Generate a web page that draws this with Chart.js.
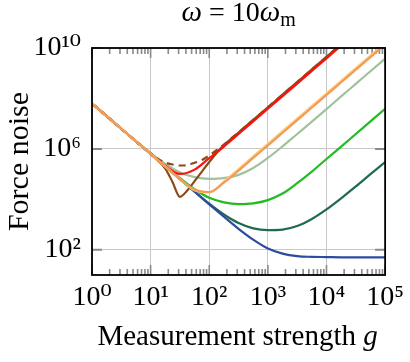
<!DOCTYPE html>
<html><head><meta charset="utf-8">
<script src="https://cdn.jsdelivr.net/npm/chart.js@4.4.0/dist/chart.umd.min.js"></script>
<style>html,body{margin:0;padding:0;background:#fff}canvas{display:block}</style>
</head><body>
<canvas id="c" width="410" height="362"></canvas>
<script>
const gCoarse = [1, 1.778, 3.162, 5.623, 10, 17.78, 31.62, 56.23, 100, 177.8, 316.2, 562.3, 1000, 1778, 3162, 5623, 10000, 17780, 31620, 56230, 100000];
const gFine = [1, 1.778, 3.162, 5.623, 10, 13.34, 17.78, 23.71, 31.62, 42.17, 56.23, 74.99, 100, 133.4, 177.8, 316.2, 562.3, 1000, 1778, 3162, 5623, 10000, 17780];

const blueNoise = [6.31e7, 2.0e7, 6.31e6, 2.0e6, 6.31e5, 2.0e5, 6.31e4, 2.0e4, 6.31e3, 2.04e3, 676, 251, 112, 70.8, 56.2, 52.5, 51.3, 50.1, 50.1, 50.1, 50.1];
const darkGreenNoise = [6.31e7, 2.0e7, 6.31e6, 2.0e6, 6.31e5, 2.0e5, 6.31e4, 2.04e4, 6.76e3, 2.51e3, 1.15e3, 708, 603, 631, 871, 1.66e3, 3.98e3, 1.10e4, 3.24e4, 1.0e5, 3.02e5];
const greenNoise = [6.31e7, 2.0e7, 6.31e6, 2.0e6, 6.31e5, 2.04e5, 6.92e4, 2.51e4, 1.15e4, 7.59e3, 6.46e3, 6.92e3, 9.33e3, 1.70e4, 4.37e4, 1.26e5, 3.98e5, 1.23e6, 3.89e6, 1.23e7, 3.89e7];
const sageNoise = [6.31e7, 2.0e7, 6.31e6, 2.0e6, 6.92e5, 2.51e5, 1.17e5, 7.59e4, 6.46e4, 6.92e4, 9.33e4, 1.74e5, 4.37e5, 1.26e6, 3.89e6, 1.20e7, 3.80e7, 1.20e8, 3.80e8, 1.20e9, 3.80e9];
const orangeNoise = [6.31e7, 2.0e7, 6.31e6, 2.0e6, 6.31e5, 2.0e5, 6.46e4, 2.45e4, 1.95e4, 4.57e4, 1.38e5, 4.37e5, 1.38e6, 4.37e6, 1.38e7, 4.37e7, 1.38e8, 4.37e8, 1.38e9, 4.37e9, 1.38e10];
const lightOrangeNoise = [6.31e7, 2.0e7, 6.31e6, 2.0e6, 6.31e5, 2.0e5, 6.31e4, 2.29e4, 1.86e4, 5.01e4, 1.58e5, 5.01e5, 1.58e6, 5.01e6, 1.58e7, 5.01e7, 1.58e8, 5.01e8, 1.58e9, 5.01e9, 1.58e10];
const redNoise = [6.31e7, 2.0e7, 6.31e6, 2.0e6, 6.31e5, 2.14e5, 1.02e5, 1.51e5, 4.27e5, 1.23e6, 3.89e6, 1.23e7, 3.89e7, 1.23e8, 3.89e8, 1.23e9, 3.89e9, 1.23e10, 3.89e10];
const brownNoise = [6.31e7, 2.0e7, 6.31e6, 2.0e6, 6.31e5, 3.39e5, 1.66e5, 4.79e4, 1.26e4, 2.24e4, 5.25e4, 1.26e5, 3.02e5, 6.92e5, 1.41e6, 4.47e6, 1.41e7, 4.47e7, 1.41e8, 4.47e8, 1.41e9, 4.47e9, 1.41e10];
const brownDashedNoise = [6.31e7, 2.0e7, 6.31e6, 2.0e6, 6.61e5, 3.98e5, 2.88e5, 2.40e5, 2.19e5, 2.29e5, 2.82e5, 3.63e5, 5.50e5, 8.91e5, 1.48e6, 4.57e6, 1.41e7, 4.47e7, 1.41e8, 4.47e8, 1.41e9, 4.47e9, 1.41e10];

const xTicks = [1, 10, 100, 1000, 10000, 100000];
const xTickLabels = ['10\u2070', '10\u00b9', '10\u00b2', '10\u00b3', '10\u2074', '10\u2075'];
const yTicks = [1e2, 1e6, 1e10];
const yTickLabels = ['10\u00b2', '10\u2076', '10\u00b9\u2070'];

const titleVar = '\u03c9';
const titleMid = ' = 10';
const titleSub = 'm';
const xTitle = 'Measurement strength ';
const xTitleVar = 'g';
const yTitle = 'Force noise';

const FONT = "'Liberation Serif', 'DejaVu Serif', serif";

function series(xs, ys, color, width, dash) {
  return {
    data: ys.map((v, i) => ({ x: xs[i], y: v })),
    borderColor: color, borderWidth: width, borderDash: dash || [],
    pointRadius: 0, fill: false, cubicInterpolationMode: 'monotone'
  };
}

const minorX = [];
for (let d = 0; d < 5; d++) for (let m = 2; m <= 9; m++) minorX.push(m * Math.pow(10, d));

const decor = {
  id: 'decor',
  beforeDatasetsDraw(chart) {
    const { ctx, chartArea: a, scales: { x, y } } = chart;
    ctx.save();
    ctx.strokeStyle = '#8a8a8a';
    ctx.lineWidth = 1.6;
    ctx.beginPath();
    minorX.forEach(v => {
      const px = x.getPixelForValue(v);
      ctx.moveTo(px, a.bottom); ctx.lineTo(px, a.bottom - 6);
      ctx.moveTo(px, a.top); ctx.lineTo(px, a.top + 6);
    });
    xTicks.forEach(v => {
      const px = x.getPixelForValue(v);
      ctx.moveTo(px, a.bottom); ctx.lineTo(px, a.bottom - 10);
      ctx.moveTo(px, a.top); ctx.lineTo(px, a.top + 10);
    });
    ctx.stroke();
    ctx.lineWidth = 2;
    ctx.beginPath();
    yTicks.forEach(v => {
      const py = y.getPixelForValue(v);
      ctx.moveTo(a.left, py); ctx.lineTo(a.left + 10, py);
      ctx.moveTo(a.right, py); ctx.lineTo(a.right - 10, py);
    });
    ctx.stroke();
    ctx.restore();
  },
  afterDraw(chart) {
    const { ctx, chartArea: a } = chart;
    ctx.save();
    ctx.strokeStyle = '#000';
    ctx.lineWidth = 1.8;
    ctx.strokeRect(a.left, a.top, a.right - a.left, a.bottom - a.top);
    ctx.fillStyle = '#000';
    ctx.textBaseline = 'alphabetic';
    ctx.textAlign = 'left';
    const cx = (a.left + a.right) / 2;
    const runsT = [
      { t: titleVar, f: 'italic 29px ' + FONT, dy: 0 },
      { t: titleMid, f: '28px ' + FONT, dy: 0 },
      { t: titleVar, f: 'italic 29px ' + FONT, dy: 0 },
      { t: titleSub, f: '20px ' + FONT, dy: 5 }
    ];
    drawRuns(ctx, runsT, cx, 21);
    const runsX = [
      { t: xTitle, f: '29px ' + FONT, dy: 0 },
      { t: xTitleVar, f: 'italic 29px ' + FONT, dy: 0 }
    ];
    drawRuns(ctx, runsX, cx - 1, 345);
    ctx.restore();
  }
};
function drawRuns(ctx, runs, cx, base) {
  let total = 0;
  runs.forEach(r => { ctx.font = r.f; r.w = ctx.measureText(r.t).width; total += r.w; });
  let xx = cx - total / 2;
  runs.forEach(r => { ctx.font = r.f; ctx.fillText(r.t, xx, base + r.dy); xx += r.w; });
}

new Chart(document.getElementById('c'), {
  type: 'line',
  data: {
    datasets: [
      series(gCoarse, orangeNoise, '#f29b55', 2.2),
      series(gCoarse, lightOrangeNoise, '#ffcf85', 2.4),
      series(gCoarse, redNoise, '#ff1010', 2.2),
      series(gFine, brownNoise, '#8b4a16', 2.2),
      series(gFine, brownDashedNoise, '#8b4a16', 2.2, [7, 5]),
      series(gCoarse, sageNoise, '#9fc29d', 2.2),
      series(gCoarse, blueNoise, '#2b4c9f', 2.2),
      series(gCoarse, darkGreenNoise, '#1f6a52', 2.2),
      series(gCoarse, greenNoise, '#22bb22', 2.2)
    ]
  },
  options: {
    responsive: false, animation: false, devicePixelRatio: 1,
    layout: { padding: { top: 48, right: 16, left: 0, bottom: 0 } },
    plugins: { legend: { display: false }, tooltip: { enabled: false }, title: { display: false } },
    scales: {
      x: {
        type: 'logarithmic', min: 1, max: 1e5,
        afterBuildTicks: s => { s.ticks = xTicks.map(v => ({ value: v })); },
        afterFit: s => { s.height = 87; },
        grid: { color: '#c8c8c8', lineWidth: 1, drawTicks: false },
        border: { display: false },
        ticks: {
          padding: 6, color: '#000', maxRotation: 0, autoSkip: false,
          font: { family: FONT, size: 28 },
          callback: v => { const i = xTicks.indexOf(v); return i >= 0 ? xTickLabels[i] : ''; }
        }
      },
      y: {
        type: 'logarithmic', min: 10, max: 1e10,
        afterBuildTicks: s => { s.ticks = yTicks.map(v => ({ value: v })); },
        afterFit: s => { s.width = 92; },
        grid: { color: '#c8c8c8', lineWidth: 1, drawTicks: false },
        border: { display: false },
        ticks: {
          padding: 11, color: '#000', autoSkip: false,
          font: { family: FONT, size: 28 },
          callback: v => { const i = yTicks.indexOf(v); return i >= 0 ? yTickLabels[i] : ''; }
        },
        title: { display: true, text: yTitle, color: '#000', font: { family: FONT, size: 30 }, padding: { top: 2, bottom: 0 } }
      }
    }
  },
  plugins: [decor]
});
</script>
</body></html>
